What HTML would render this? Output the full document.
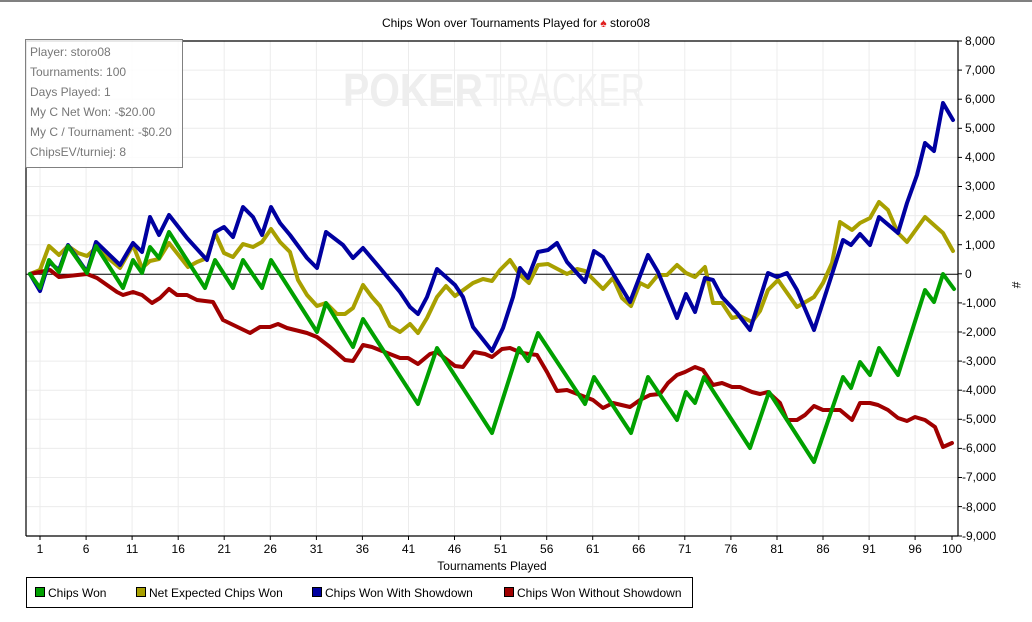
<!DOCTYPE html>
<html><head><meta charset="utf-8"><style>
body{margin:0;background:#fff;}
svg{display:block;font-family:"Liberation Sans",sans-serif;}
</style></head><body>
<svg width="1032" height="622" viewBox="0 0 1032 622" xmlns="http://www.w3.org/2000/svg">
<rect x="0" y="0" width="1032" height="2" fill="#808080"/>
<text x="516" y="27" font-size="12" text-anchor="middle" fill="#000">Chips Won over Tournaments Played for <tspan fill="#e02020">♠</tspan> storo08</text>
<g stroke="#ececec" stroke-width="1">
<line x1="26" y1="70.1" x2="958" y2="70.1"/><line x1="26" y1="99.2" x2="958" y2="99.2"/><line x1="26" y1="128.3" x2="958" y2="128.3"/><line x1="26" y1="157.4" x2="958" y2="157.4"/><line x1="26" y1="186.5" x2="958" y2="186.5"/><line x1="26" y1="215.6" x2="958" y2="215.6"/><line x1="26" y1="244.7" x2="958" y2="244.7"/><line x1="26" y1="302.9" x2="958" y2="302.9"/><line x1="26" y1="332" x2="958" y2="332"/><line x1="26" y1="361.1" x2="958" y2="361.1"/><line x1="26" y1="390.2" x2="958" y2="390.2"/><line x1="26" y1="419.3" x2="958" y2="419.3"/><line x1="26" y1="448.4" x2="958" y2="448.4"/><line x1="26" y1="477.5" x2="958" y2="477.5"/><line x1="26" y1="506.6" x2="958" y2="506.6"/>
<line x1="40" y1="41" x2="40" y2="536"/><line x1="86.1" y1="41" x2="86.1" y2="536"/><line x1="132.1" y1="41" x2="132.1" y2="536"/><line x1="178.2" y1="41" x2="178.2" y2="536"/><line x1="224.2" y1="41" x2="224.2" y2="536"/><line x1="270.3" y1="41" x2="270.3" y2="536"/><line x1="316.4" y1="41" x2="316.4" y2="536"/><line x1="362.4" y1="41" x2="362.4" y2="536"/><line x1="408.5" y1="41" x2="408.5" y2="536"/><line x1="454.5" y1="41" x2="454.5" y2="536"/><line x1="500.6" y1="41" x2="500.6" y2="536"/><line x1="546.7" y1="41" x2="546.7" y2="536"/><line x1="592.7" y1="41" x2="592.7" y2="536"/><line x1="638.8" y1="41" x2="638.8" y2="536"/><line x1="684.8" y1="41" x2="684.8" y2="536"/><line x1="730.9" y1="41" x2="730.9" y2="536"/><line x1="777" y1="41" x2="777" y2="536"/><line x1="823" y1="41" x2="823" y2="536"/><line x1="869.1" y1="41" x2="869.1" y2="536"/><line x1="915.1" y1="41" x2="915.1" y2="536"/>
</g>
<text x="343" y="106" font-size="46" font-weight="bold" fill="#eeeeee" textLength="140" lengthAdjust="spacingAndGlyphs">POKER</text>
<text x="485" y="106" font-size="46" fill="#f1f1f1" textLength="160" lengthAdjust="spacingAndGlyphs">TRACKER</text>
<g fill="none" stroke="#000" stroke-width="1.2">
<line x1="26" y1="41" x2="958" y2="41"/>
<line x1="26" y1="41" x2="26" y2="536"/>
<line x1="958" y1="41" x2="958" y2="536"/>
<line x1="26" y1="536" x2="958" y2="536"/>
</g>
<line x1="26" y1="274.2" x2="958" y2="274.2" stroke="#000" stroke-width="1"/>
<g stroke="#000" stroke-width="1">
<line x1="958" y1="41" x2="962" y2="41"/><line x1="958" y1="70.1" x2="962" y2="70.1"/><line x1="958" y1="99.2" x2="962" y2="99.2"/><line x1="958" y1="128.3" x2="962" y2="128.3"/><line x1="958" y1="157.4" x2="962" y2="157.4"/><line x1="958" y1="186.5" x2="962" y2="186.5"/><line x1="958" y1="215.6" x2="962" y2="215.6"/><line x1="958" y1="244.7" x2="962" y2="244.7"/><line x1="958" y1="273.8" x2="962" y2="273.8"/><line x1="958" y1="302.9" x2="962" y2="302.9"/><line x1="958" y1="332" x2="962" y2="332"/><line x1="958" y1="361.1" x2="962" y2="361.1"/><line x1="958" y1="390.2" x2="962" y2="390.2"/><line x1="958" y1="419.3" x2="962" y2="419.3"/><line x1="958" y1="448.4" x2="962" y2="448.4"/><line x1="958" y1="477.5" x2="962" y2="477.5"/><line x1="958" y1="506.6" x2="962" y2="506.6"/><line x1="958" y1="536" x2="962" y2="536"/>
<line x1="40" y1="536" x2="40" y2="540"/><line x1="86.1" y1="536" x2="86.1" y2="540"/><line x1="132.1" y1="536" x2="132.1" y2="540"/><line x1="178.2" y1="536" x2="178.2" y2="540"/><line x1="224.2" y1="536" x2="224.2" y2="540"/><line x1="270.3" y1="536" x2="270.3" y2="540"/><line x1="316.4" y1="536" x2="316.4" y2="540"/><line x1="362.4" y1="536" x2="362.4" y2="540"/><line x1="408.5" y1="536" x2="408.5" y2="540"/><line x1="454.5" y1="536" x2="454.5" y2="540"/><line x1="500.6" y1="536" x2="500.6" y2="540"/><line x1="546.7" y1="536" x2="546.7" y2="540"/><line x1="592.7" y1="536" x2="592.7" y2="540"/><line x1="638.8" y1="536" x2="638.8" y2="540"/><line x1="684.8" y1="536" x2="684.8" y2="540"/><line x1="730.9" y1="536" x2="730.9" y2="540"/><line x1="777" y1="536" x2="777" y2="540"/><line x1="823" y1="536" x2="823" y2="540"/><line x1="869.1" y1="536" x2="869.1" y2="540"/><line x1="915.1" y1="536" x2="915.1" y2="540"/><line x1="952" y1="536" x2="952" y2="540"/>
</g>
<g font-size="12" fill="#000">
<text x="965" y="45">8,000</text><text x="965" y="74">7,000</text><text x="965" y="103">6,000</text><text x="965" y="132">5,000</text><text x="965" y="161">4,000</text><text x="965" y="190">3,000</text><text x="965" y="219">2,000</text><text x="965" y="249">1,000</text><text x="965" y="278">0</text><text x="962" y="307">-1,000</text><text x="962" y="336">-2,000</text><text x="962" y="365">-3,000</text><text x="962" y="394">-4,000</text><text x="962" y="423">-5,000</text><text x="962" y="452">-6,000</text><text x="962" y="481">-7,000</text><text x="962" y="511">-8,000</text><text x="962" y="540">-9,000</text>
</g>
<text transform="translate(1012,285) rotate(90)" font-size="12" text-anchor="middle">#</text>
<g font-size="12" text-anchor="middle" fill="#000">
<text x="40" y="553">1</text><text x="86.1" y="553">6</text><text x="132.1" y="553">11</text><text x="178.2" y="553">16</text><text x="224.2" y="553">21</text><text x="270.3" y="553">26</text><text x="316.4" y="553">31</text><text x="362.4" y="553">36</text><text x="408.5" y="553">41</text><text x="454.5" y="553">46</text><text x="500.6" y="553">51</text><text x="546.7" y="553">56</text><text x="592.7" y="553">61</text><text x="638.8" y="553">66</text><text x="684.8" y="553">71</text><text x="730.9" y="553">76</text><text x="777" y="553">81</text><text x="823" y="553">86</text><text x="869.1" y="553">91</text><text x="915.1" y="553">96</text><text x="952" y="553">100</text>
<text x="492" y="570">Tournaments Played</text>
</g>
<g fill="none" stroke-width="4" stroke-linejoin="round" stroke-linecap="round">
<polyline stroke="#a8a000" points="30,274 40,270 49,246 59,255 68,246 78,253 87,256 96,248 120,268 133,245 142,268 150,261 159,259 169,243 188,267 197,262 207,258 215,233 224,253 233,257 243,244 253,247 262,242 271,229 280,242 290,252 298,280 307,295 317,306 326,303 337,314 345,314 353,308 363,285 372,297 380,306 390,326 400,332 410,324 418,333 427,318 437,297 446,286 455,296 473,283 483,279 492,281 500,270 510,260 520,275 529,283 538,265 548,264 567,274 577,269 585,271 603,289 613,278 622,298 631,306 640,283 648,287 658,275 667,275 677,265 686,273 695,277 705,267 713,303 722,303 732,318 740,316 752,322 760,311 768,290 778,280 797,307 814,297 823,283 832,263 840,222 852,230 860,223 870,218 879,202 888,210 898,233 907,242 925,217 943,233 953,251"/>
<polyline stroke="#a00000" points="30,274 50,270 59,277 87,274 97,278 117,292 123,295 133,292 142,295 152,303 160,298 169,289 177,295 187,295 197,300 213,302 223,320 250,333 260,327 270,327 278,324 287,328 307,333 317,337 330,347 345,360 353,361 363,345 372,347 400,358 408,358 418,364 430,354 437,352 455,366 463,367 474,352 485,354 492,357 502,349 510,348 522,353 537,355 547,372 557,391 567,390 593,400 603,408 613,403 630,407 640,400 650,395 660,394 668,383 677,375 685,372 695,367 703,370 713,385 722,383 732,387 740,387 752,392 760,394 768,392 780,403 787,420 797,420 805,415 814,406 823,410 840,410 852,420 860,403 870,403 878,405 888,410 898,418 907,421 915,417 925,420 935,427 943,447 952,443"/>
<polyline stroke="#0000a0" points="30,274 40,291 49,262 59,270 68,245 87,272 96,242 120,265 133,243 142,252 150,217 159,235 169,215 187,238 207,260 215,232 224,227 233,237 243,207 253,217 262,235 271,207 280,223 290,235 307,258 317,268 326,232 343,245 353,258 363,248 380,268 400,292 410,307 418,314 427,297 437,269 455,285 463,297 473,327 492,351 503,328 513,297 520,268 528,278 538,252 548,250 557,243 567,262 585,282 594,251 603,257 630,302 648,255 658,272 677,318 686,294 695,312 705,278 713,280 722,297 737,313 750,330 768,273 777,277 787,273 797,290 814,330 843,240 851,245 860,234 870,245 879,217 898,233 907,203 917,175 925,143 934,151 943,103 953,120"/>
<polyline stroke="#00a000" points="30,274 40,288 49,260 59,272 68,246 87,273 96,246 123,288 133,260 142,273 150,247 159,258 169,232 205,288 215,260 233,288 243,260 262,288 271,260 317,332 326,303 353,347 363,319 418,404 437,348 492,433 519,348 528,361 538,333 585,404 594,377 631,433 648,377 677,420 686,392 695,403 704,377 750,448 769,392 814,462 843,377 851,388 860,362 870,375 879,348 898,375 925,290 934,302 943,274 954,289"/>
</g>
<rect x="25.5" y="39.5" width="157" height="128" fill="#fff" fill-opacity="0.85" stroke="#808080" stroke-width="1"/>
<g font-size="12" fill="#777">
<text x="30" y="56">Player: storo08</text>
<text x="30" y="76">Tournaments: 100</text>
<text x="30" y="96">Days Played: 1</text>
<text x="30" y="116">My C Net Won: -$20.00</text>
<text x="30" y="136">My C / Tournament: -$0.20</text>
<text x="30" y="156">ChipsEV/turniej: 8</text>
</g>
<rect x="26.5" y="577.5" width="666" height="30" fill="#fff" stroke="#000" stroke-width="1"/>
<g stroke="#000" stroke-width="1">
<rect x="35.5" y="587.5" width="9" height="9" fill="#00a000"/>
<rect x="136.5" y="587.5" width="9" height="9" fill="#a8a000"/>
<rect x="312.5" y="587.5" width="9" height="9" fill="#0000a0"/>
<rect x="504.5" y="587.5" width="9" height="9" fill="#a00000"/>
</g>
<g font-size="12" fill="#000">
<text x="48" y="597">Chips Won</text>
<text x="149" y="597">Net Expected Chips Won</text>
<text x="325" y="597">Chips Won With Showdown</text>
<text x="517" y="597">Chips Won Without Showdown</text>
</g>
</svg>
</body></html>
